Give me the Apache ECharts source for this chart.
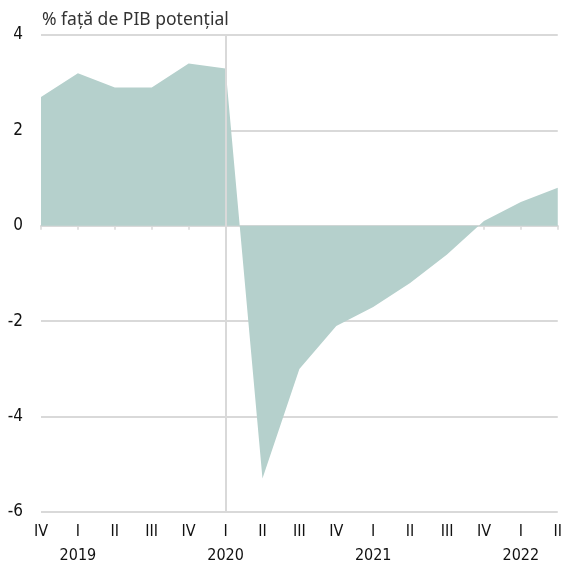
<!DOCTYPE html>
<html>
<head>
<meta charset="utf-8">
<script src="https://cdn.jsdelivr.net/npm/echarts@6/dist/echarts.min.js"></script>
<style>
  html, body { margin: 0; padding: 0; background: #fff; }
  #chart { width: 565px; height: 575px; }
</style>
</head>
<body>
<div id="chart"></div>
<script>
// quarters from 2018 Q4 to 2022 Q2
var quarters = ["IV", "I", "II", "III", "IV", "I", "II", "III", "IV", "I", "II", "III", "IV", "I", "II"];
var years = ["", "2019", "", "", "", "2020", "", "", "", "2021", "", "", "", "2022", ""];
var gap = [2.7, 3.2, 2.9, 2.9, 3.4, 3.3, -5.3, -3.0, -2.1, -1.7, -1.2, -0.6, 0.1, 0.5, 0.8];
var yTicks = [-6, -4, -2, 0, 2, 4];

var labels = quarters.map(function (q, i) {
  return years[i] ? q + "\n" + years[i] : q;
});

var font = "'Liberation Sans Narrow', 'DejaVu Sans Condensed', sans-serif";
var chart = echarts.init(document.getElementById("chart"));

chart.setOption({
  animation: false,
  title: {
    text: "% față de PIB potențial",
    left: 37,
    top: 6,
    textStyle: { fontFamily: "'Noto Sans', sans-serif", fontWeight: "normal", fontSize: 17.5, color: "#333" }
  },
  grid: { left: 41, right: 7, top: 35, bottom: 63 },
  xAxis: [
    {
      type: "category",
      data: labels,
      boundaryGap: false,
      axisLine: { onZero: true, lineStyle: { color: "#d9d9d9", width: 2 } },
      axisTick: { show: true, length: 4, lineStyle: { color: "#d9d9d9", width: 1.5 } },
      axisLabel: { show: false },
      splitLine: { show: false }
    },
    {
      type: "category",
      data: labels,
      boundaryGap: false,
      position: "bottom",
      axisLine: { show: false, onZero: false },
      axisTick: { show: false },
      axisLabel: {
        interval: 0,
        margin: 8,
        fontFamily: font,
        fontSize: 16,
        lineHeight: 24,
        color: "#111"
      }
    }
  ],
  yAxis: {
    type: "value",
    min: yTicks[0],
    max: yTicks[yTicks.length - 1],
    interval: 2,
    axisLine: { show: false },
    axisTick: { show: false },
    axisLabel: { fontFamily: font, fontSize: 17, color: "#111", margin: 18 },
    splitLine: { lineStyle: { color: "#d9d9d9", width: 2 } }
  },
  series: [
    {
      type: "line",
      data: gap,
      symbol: "none",
      lineStyle: { width: 0 },
      areaStyle: { color: "#b5d0cc", opacity: 1 },
      markLine: {
        silent: true,
        symbol: "none",
        label: { show: false },
        lineStyle: { color: "#d9d9d9", width: 2, type: "solid" },
        data: [{ xAxis: 5 }]
      }
    }
  ]
});
</script>
</body>
</html>
